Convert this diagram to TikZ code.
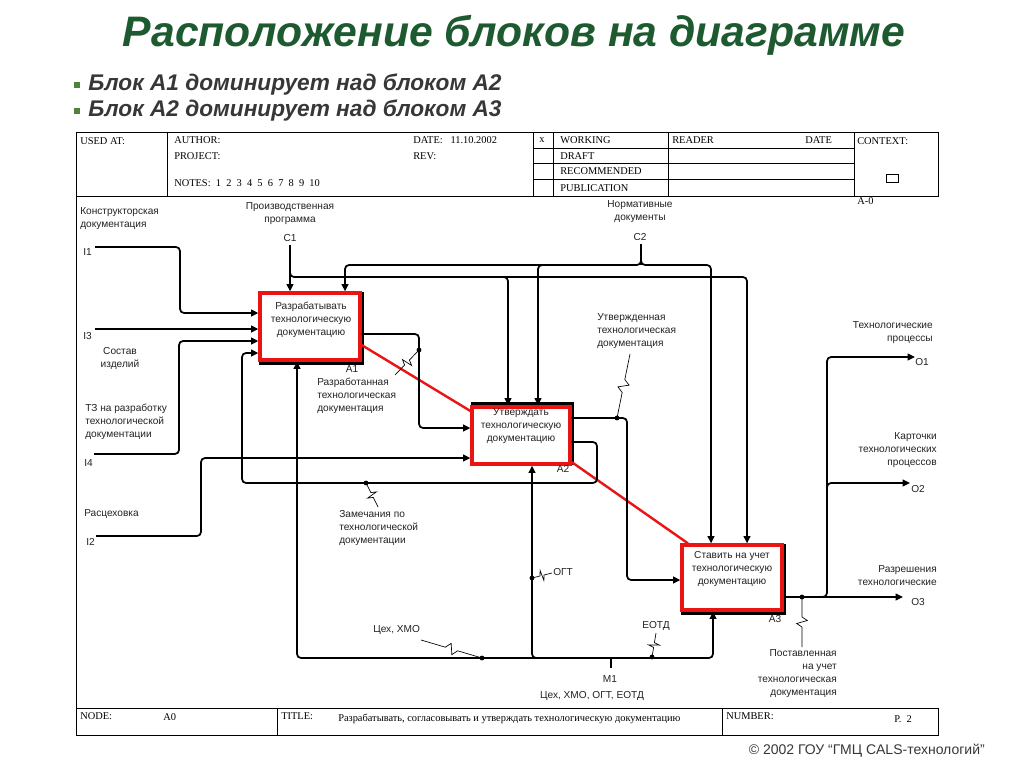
\documentclass[tikz,border=0pt]{standalone}
\usepackage{fontspec}
\setmainfont{Liberation Sans}
\newfontfamily\hdrserif{Liberation Serif}
\usetikzlibrary{arrows.meta,calc}
\definecolor{ttl}{RGB}{30,90,48}
\definecolor{bul}{RGB}{55,55,55}
\definecolor{bsq}{RGB}{80,130,60}
\definecolor{lbl}{RGB}{35,35,35}
\definecolor{boxred}{RGB}{235,20,20}
\newcommand\mylf{\fontsize{7.6}{9.75}\selectfont}
\newcommand\myhf{\hdrserif\fontsize{7.8}{9.5}\selectfont}
\newcommand\squig[2]{\draw[sq] (#1) -- ($(#1)!0.40!(#2)$) -- ($(#1)!0.47!(#2)!4pt!90:(#2)$) -- ($(#1)!0.53!(#2)!4pt!-90:(#2)$) -- ($(#1)!0.60!(#2)$) -- (#2);}
\pgfdeclarelayer{bg}
\pgfsetlayers{bg,main}
\begin{document}
\begin{tikzpicture}[x=0.75pt,y=-0.75pt,
  conn/.style={line width=1.3pt, rounded corners=3pt},
  arr/.style={conn, -{Triangle[length=5.5pt,width=5pt]}},
  hdr/.style={line width=0.7pt},
  sq/.style={line width=0.5pt},
  lab/.style={font=\mylf, inner sep=0pt, text=lbl},
  htx/.style={font=\myhf, inner sep=0pt, anchor=west},
  blk/.style={draw=boxred, line width=2.4pt, fill=white, inner sep=0pt, outer sep=1.2pt},
  shd/.style={line width=1.8pt},
  redl/.style={draw=boxred, line width=1.8pt},
  dot/.style={circle, fill, inner sep=0pt, minimum size=3.6pt}]
\useasboundingbox (0,0) rectangle (1024,767);
\begin{pgfonlayer}{bg}
\fill[white] (0,0) rectangle (1024,767);
\end{pgfonlayer}

% title and bullets
\node[font=\fontsize{32}{38}\selectfont\bfseries\itshape, text=ttl] (title) at (514,35) {Расположение блоков на диаграмме};
\fill[bsq] (74,82) rectangle (80,88);
\fill[bsq] (74,108) rectangle (80,114);
\node[anchor=west, font=\fontsize{17}{20}\selectfont\bfseries\itshape, text=bul, inner sep=0pt] (b1) at (88,85) {Блок А1 доминирует над блоком А2};
\node[anchor=west, font=\fontsize{17}{20}\selectfont\bfseries\itshape, text=bul, inner sep=0pt] (b2) at (88,111) {Блок А2 доминирует над блоком А3};
\node[anchor=east, font=\fontsize{10.5}{12}\selectfont, text=bul, inner sep=0pt] (foot) at (985,751) {© 2002 ГОУ “ГМЦ CALS-технологий”};

% header frame
\draw[hdr] (76,132) rectangle (938,196);
\draw[hdr] (167,132) -- (167,196);
\draw[hdr] (533,132) -- (533,196);
\draw[hdr] (553,132) -- (553,196);
\draw[hdr] (668,132) -- (668,196);
\draw[hdr] (854,132) -- (854,196);
\draw[hdr] (533,148) -- (854,148);
\draw[hdr] (533,163) -- (854,163);
\draw[hdr] (533,179) -- (854,179);
\draw[hdr] (886,174) rectangle (898,182);
\draw[hdr] (76,196) -- (76,708);
\draw[hdr] (76,708) rectangle (938,735);
\draw[hdr] (277,708) -- (277,735);
\draw[hdr] (722,708) -- (722,735);

\node[htx] (hUsed) at (80,141) {USED AT:};
\node[htx] (hAuth) at (174,140) {AUTHOR:};
\node[htx] (hProj) at (174,156) {PROJECT:};
\node[htx] (hNotes) at (174,183) {NOTES:\ \ 1\ \ 2\ \ 3\ \ 4\ \ 5\ \ 6\ \ 7\ \ 8\ \ 9\ \ 10};
\node[htx] (hDate) at (413,140) {DATE:\ \ \ 11.10.2002};
\node[htx] (hRev) at (413,156) {REV:};
\node[htx] (hX) at (539,140) {x};
\node[htx] (hWork) at (560,140) {WORKING};
\node[htx] (hDraft) at (560,156) {DRAFT};
\node[htx] (hRec) at (560,171) {RECOMMENDED};
\node[htx] (hPub) at (560,188) {PUBLICATION};
\node[htx] (hRead) at (672,140) {READER};
\node[htx] (hDate2) at (805,140) {DATE};
\node[htx] (hCtx) at (857,141) {CONTEXT:};
\node[htx] (hA0) at (857,201) {A-0};
\node[htx] (fNode) at (80,716) {NODE:};
\node[htx] (fA0) at (163,717) {A0};
\node[htx] (fTitle) at (281,716) {TITLE:};
\node[htx] (fTxt) at (338,719) {Разрабатывать, согласовывать и утверждать технологическую документацию};
\node[htx] (fNum) at (726,716) {NUMBER:};
\node[htx] (fP) at (894,719) {P.\ \ 2};

% boxes
\node[blk, minimum width=75pt, minimum height=50.25pt] (A1) at (310,326.5) {};
\node[blk, minimum width=73.5pt, minimum height=42.75pt] (A2) at (521,435.5) {};
\node[blk, minimum width=75pt, minimum height=48.75pt] (A3) at (732,577.5) {};
\begin{pgfonlayer}{bg}
\draw[shd] ([shift={(1.5,2)}]A1.south west) rectangle ([shift={(1.5,2)}]A1.north east);
\draw[shd] ([shift={(1.5,-2)}]A2.south west) rectangle ([shift={(1.5,-2)}]A2.north east);
\draw[shd] ([shift={(1.5,2)}]A3.south west) rectangle ([shift={(1.5,2)}]A3.north east);
\end{pgfonlayer}
\node[lab, align=center] (t1) at (311,320) {Разрабатывать\\технологическую\\документацию};
\node[lab, align=center] (t2) at (521,426) {Утверждать\\технологическую\\документацию};
\node[lab, align=center] (t3) at (732,569) {Ставить на учет\\технологическую\\документацию};
\node[lab] (nA1) at (352,369) {A1};
\node[lab] (nA2) at (563,469) {A2};
\node[lab] (nA3) at (775,619) {A3};

% red dominance lines
\draw[redl] (A1.east |- 0,345) -- (A2.west |- 0,411);
\draw[redl] (A2.east |- 0,462) -- (A3.north -| 688,0);

% free ends
\coordinate (i1) at (95,247);
\coordinate (i3) at (95,329);
\coordinate (i4) at (94,454);
\coordinate (i2) at (96,536);
\coordinate (c1) at (290,245);
\coordinate (c2) at (641,244);
\coordinate (o1) at (915,357);
\coordinate (o2) at (910,483);
\coordinate (o3) at (903,597);
\coordinate (m1) at (611,668);

% inputs
\draw[arr] (i1) -- (180,247) -- (180,313) -- (A1.west |- 0,313);
\draw[arr] (i3) -- (A1.west |- i3);
\draw[arr] (i4) -- (179,454) -- (179,341) -- (A1.west |- 0,341);
\draw[arr] (A2.east |- 0,442) -- (597,442) -- (597,483) -- (242,483) -- (242,353) -- (A1.west |- 0,353);
\draw[arr] (i2) -- (201,536) -- (201,458) -- (A2.west |- 0,458);
\draw[arr] (A1.east |- 0,334) -- (419,334) -- (419,428) -- (A2.west |- 0,428);
\draw[arr] (A2.east |- 0,418) -- (627,418) -- (627,580) -- (A3.west |- 0,580);
% controls
\draw[arr] (c1) -- (A1.north -| c1);
\draw[arr] (290,270) -- (290,277) -- (508,277) -- (A2.north -| 508,0);
\draw[arr] (500,277) -- (747,277) -- (A3.north -| 747,0);
\draw[conn] (c2) -- (641,265);
\draw[arr] (641,258) -- (641,265) -- (345,265) -- (A1.north -| 345,0);
\draw[arr] (641,258) -- (641,265) -- (711,265) -- (A3.north -| 711,0);
\draw[arr] (546,265) -- (538,265) -- (A2.north -| 538,0);
% outputs
\draw[arr] (A3.east |- o3) -- (o3);
\draw[arr] (820,597) -- (827,597) -- (827,357) -- (o1);
\draw[arr] (827,490) -- (827,483) -- (o2);
% mechanisms
\draw[conn] (m1) -- (611,658);
\draw[arr] (611,658) -- (297,658) -- (A1.south -| 297,0);
\draw[arr] (611,658) -- (713,658) -- (A3.south -| 713,0);
\draw[arr] (540,658) -- (532,658) -- (A2.south -| 532,0);

% dots and squiggles
\node[dot] (d1) at (419,350) {};
\node[dot] (d2) at (617,418) {};
\node[dot] (d3) at (366,483) {};
\node[dot] (d4) at (532,578) {};
\node[dot] (d5) at (482,658) {};
\node[dot] (d6) at (652,657) {};
\node[dot] (d7) at (802,597) {};
\squig{419,350}{395,375}
\squig{617,418}{630,354}
\squig{366,483}{378,507}
\squig{532,578}{552,573}
\squig{482,658}{421,640}
\squig{652,657}{656,633}
\squig{802,597}{802,647}

% labels
\node[lab, align=left, anchor=west] (lKD) at (80,218.5) {Конструкторская\\документация};
\node[lab, align=center] (lPP) at (290,213.5) {Производственная\\программа};
\node[lab] (lC1) at (290,238) {C1};
\node[lab, align=center] (lND) at (640,211.5) {Нормативные\\документы};
\node[lab] (lC2) at (640,237) {C2};
\node[lab, anchor=west] (lI1) at (83,252) {I1};
\node[lab, anchor=west] (lI3) at (83,336) {I3};
\node[lab, align=center] (lSI) at (120,358.5) {Состав\\изделий};
\node[lab, align=left, anchor=west] (lTZ) at (85,422) {ТЗ на разработку\\технологической\\документации};
\node[lab, anchor=west] (lI4) at (84,463) {I4};
\node[lab, anchor=west] (lRC) at (84,514) {Расцеховка};
\node[lab, anchor=west] (lI2) at (86,542) {I2};
\node[lab, align=left, anchor=west] (lRT) at (317,395.5) {Разработанная\\технологическая\\документация};
\node[lab, align=left, anchor=west] (lUT) at (597,331) {Утвержденная\\технологическая\\документация};
\node[lab, align=left, anchor=west] (lZM) at (339,528) {Замечания по\\технологической\\документации};
\node[lab, anchor=west] (lOGT) at (553,572) {ОГТ};
\node[lab, anchor=west] (lCX) at (373,630) {Цех, ХМО};
\node[lab, anchor=west] (lEO) at (642,626) {ЕОТД};
\node[lab] (lM1) at (610,679) {M1};
\node[lab] (lMall) at (592,696) {Цех, ХМО, ОГТ, ЕОТД};
\node[lab, align=right, anchor=east] (lTP) at (933,332.5) {Технологические\\процессы};
\node[lab] (lO1) at (922,362) {O1};
\node[lab, align=right, anchor=east] (lKT) at (937,450) {Карточки\\технологических\\процессов};
\node[lab] (lO2) at (918,489) {O2};
\node[lab, align=right, anchor=east] (lRZ) at (937,576) {Разрешения\\технологические};
\node[lab] (lO3) at (918,602) {O3};
\node[lab, align=right, anchor=east] (lPU) at (837,674) {Поставленная\\на учет\\технологическая\\документация};
\end{tikzpicture}
\end{document}
